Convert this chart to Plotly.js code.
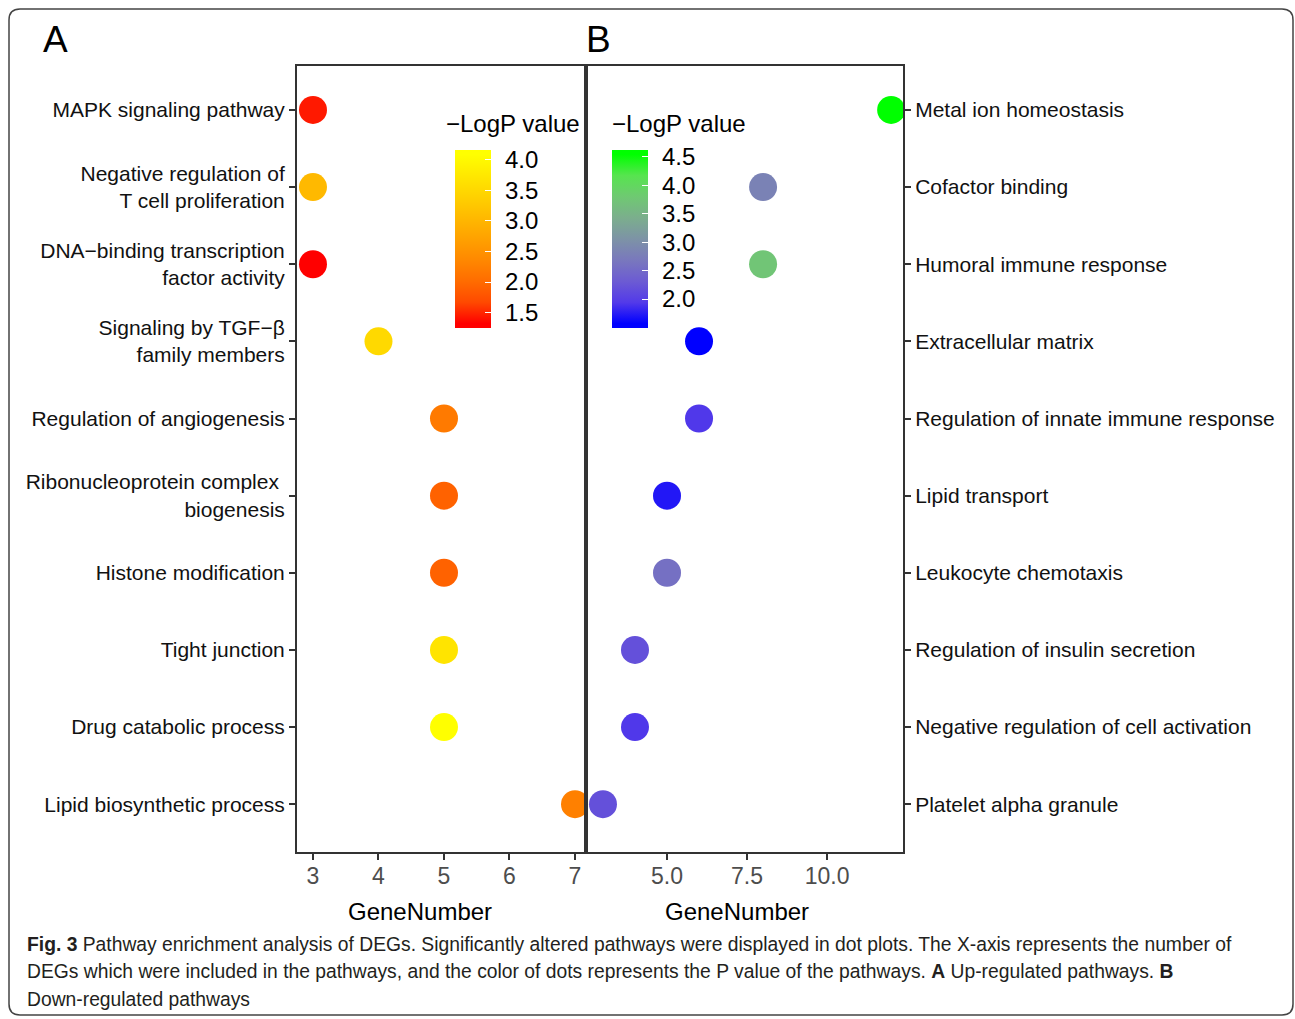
<!DOCTYPE html>
<html>
<head>
<meta charset="utf-8">
<script src="https://cdn.plot.ly/plotly-3.0.1.min.js"></script>
<style>html,body{margin:0;padding:0;background:#fff;}#chart{width:1295px;height:1019px;}</style>
</head>
<body>
<div id="chart"></div>
<script>
// ---- Data ----
const pathwaysA = [
  "MAPK signaling pathway",
  "Negative regulation of<br>T cell proliferation",
  "DNA\u2212binding transcription<br>factor activity",
  "Signaling by TGF\u2212\u03b2<br>family members",
  "Regulation of angiogenesis",
  "Ribonucleoprotein complex <br>biogenesis",
  "Histone modification",
  "Tight junction",
  "Drug catabolic process",
  "Lipid biosynthetic process"
];
const geneNumberA = [3, 3, 3, 4, 5, 5, 5, 5, 5, 7];
const logPA = [1.44, 3.05, 1.32, 3.52, 2.19, 1.91, 1.91, 3.68, 4.09, 2.26];

const pathwaysB = [
  "Metal ion homeostasis",
  "Cofactor binding",
  "Humoral immune response",
  "Extracellular matrix",
  "Regulation of innate immune response",
  "Lipid transport",
  "Leukocyte chemotaxis",
  "Regulation of insulin secretion",
  "Negative regulation of cell activation",
  "Platelet alpha granule"
];
const geneNumberB = [12, 8, 8, 6, 6, 5, 5, 4, 4, 3];
const logPB = [4.54, 2.82, 3.74, 1.57, 1.93, 1.72, 2.58, 2.19, 1.93, 2.19];

const ticksA = [3, 4, 5, 6, 7];
const ticksB = [5.0, 7.5, 10.0];
const colorbarTitle = "\u2212LogP value";
const axisTitle = "GeneNumber";
const captionLines = [
  "<b>Fig. 3</b> Pathway enrichment analysis of DEGs. Significantly altered pathways were displayed in dot plots. The X-axis represents the number of",
  "DEGs which were included in the pathways, and the color of dots represents the P value of the pathways. <b>A</b> Up-regulated pathways. <b>B</b>",
  "Down-regulated pathways"
];

// ---- Layout helpers ----
const W = 1295, H = 1019;
const px = v => v / W;
const py = v => 1 - v / H;

const scaleA = [[0,'#FF0000'],[0.125,'#FF4900'],[0.25,'#FF6C00'],[0.375,'#FF8800'],[0.5,'#FFA100'],[0.625,'#FFB900'],[0.75,'#FFD100'],[0.875,'#FFE800'],[1,'#FFFF00']];
const scaleB = [[0,'#0000FF'],[0.125,'#533AE9'],[0.25,'#6C5BD3'],[0.375,'#7978BD'],[0.5,'#7D93A6'],[0.625,'#7BAE8D'],[0.75,'#6FC972'],[0.875,'#57E44F'],[1,'#00FF00']];

// ggplot-style colorbar: bar extends half a bin (of 20) beyond the data limits, ends flat
function padScale(scale) {
  const out = [[0, scale[0][1]]];
  scale.forEach(([t, c]) => out.push([0.025 + t * 0.95, c]));
  out.push([1, scale[scale.length - 1][1]]);
  return out;
}
function padRange(vals) {
  const lo = Math.min(...vals), hi = Math.max(...vals), e = (hi - lo) / 38;
  return [lo - e, hi + e];
}
// breaks every 0.5 inside the data limits only (as ggplot does)
function breaks(vals) {
  const lo = Math.min(...vals), hi = Math.max(...vals), out = [];
  for (let v = Math.ceil(lo * 2) / 2; v <= hi + 1e-9; v += 0.5) out.push(v);
  return out;
}
const rangeA = padRange(logPA), rangeB = padRange(logPB);

const font = 'Liberation Sans, Arial, sans-serif';

function cbar(xLeft, vals) {
  const tv = breaks(vals);
  return {
    x: px(xLeft), xanchor: 'left', xref: 'paper',
    y: py(239), yanchor: 'middle', yref: 'paper',
    len: 178, lenmode: 'pixels', thickness: 36, thicknessmode: 'pixels',
    xpad: 0, ypad: 0, outlinewidth: 0,
    ticks: 'inside', tickcolor: '#ffffff', ticklen: 6, tickwidth: 1,
    tickmode: 'array', tickvals: tv, ticktext: tv.map(v => '\u00a0\u200a' + v.toFixed(1)),
    tickfont: {family: font, size: 24, color: '#000'},
    title: {text: ''}
  };
}

const traceA = {
  type: 'scatter', mode: 'markers',
  x: geneNumberA, y: pathwaysA, xaxis: 'x', yaxis: 'y',
  marker: {size: 28, color: logPA, cmin: rangeA[0], cmax: rangeA[1], colorscale: padScale(scaleA), showscale: true, colorbar: cbar(455, logPA), line: {width: 0}},
  hoverinfo: 'x+y'
};
const traceB = {
  type: 'scatter', mode: 'markers',
  x: geneNumberB, y: pathwaysB, xaxis: 'x2', yaxis: 'y2',
  marker: {size: 28, color: logPB, cmin: rangeB[0], cmax: rangeB[1], colorscale: padScale(scaleB), showscale: true, colorbar: cbar(612, logPB), line: {width: 0}},
  hoverinfo: 'x+y'
};

const axLine = {showline: true, mirror: true, linecolor: '#333333', linewidth: 2, showgrid: false, zeroline: false,
  ticks: 'outside', ticklen: 6, tickwidth: 2, tickcolor: '#333333'};

const titleFont = {family: font, size: 24, color: '#000'};

const layout = {
  width: W, height: H,
  margin: {l: 0, r: 0, t: 0, b: 0},
  paper_bgcolor: '#ffffff', plot_bgcolor: '#ffffff',
  showlegend: false,
  font: {family: font, color: '#000'},
  xaxis: Object.assign({}, axLine, {
    domain: [px(297), px(586)], range: [2.756, 7.168], anchor: 'y',
    tickmode: 'array', tickvals: ticksA, ticktext: ticksA.map(String), ticklabelstandoff: -4,
    tickfont: {family: font, size: 23, color: '#4D4D4D'}
  }),
  yaxis: Object.assign({}, axLine, {
    domain: [py(852), py(66)], anchor: 'x', type: 'category',
    categoryorder: 'array', categoryarray: pathwaysA.slice().reverse(),
    range: [-0.62, 9.57], side: 'left',
    tickfont: {family: font, size: 21, color: '#111'}
  }),
  xaxis2: Object.assign({}, axLine, {
    domain: [px(586), px(903)], range: [2.47, 12.37], anchor: 'y2',
    tickmode: 'array', tickvals: ticksB, ticktext: ticksB.map(v => v.toFixed(1)), ticklabelstandoff: -4,
    tickfont: {family: font, size: 23, color: '#4D4D4D'}
  }),
  yaxis2: Object.assign({}, axLine, {
    domain: [py(852), py(66)], anchor: 'x2', type: 'category',
    categoryorder: 'array', categoryarray: pathwaysB.slice().reverse(),
    range: [-0.62, 9.57], side: 'right',
    tickfont: {family: font, size: 21, color: '#111'}
  }),
  annotations: [
    {text: 'A', x: px(55), y: py(39), xref: 'paper', yref: 'paper', xanchor: 'center', yanchor: 'middle', showarrow: false, font: {family: font, size: 37, color: '#000'}},
    {text: 'B', x: px(598), y: py(39), xref: 'paper', yref: 'paper', xanchor: 'center', yanchor: 'middle', showarrow: false, font: {family: font, size: 37, color: '#000'}},
    {text: colorbarTitle, x: px(444), y: py(123), xref: 'paper', yref: 'paper', xanchor: 'left', yanchor: 'middle', showarrow: false, font: titleFont},
    {text: colorbarTitle, x: px(610), y: py(123), xref: 'paper', yref: 'paper', xanchor: 'left', yanchor: 'middle', showarrow: false, font: titleFont},
    {text: axisTitle, x: px(420), y: py(911), xref: 'paper', yref: 'paper', xanchor: 'center', yanchor: 'middle', showarrow: false, font: titleFont},
    {text: axisTitle, x: px(737), y: py(911), xref: 'paper', yref: 'paper', xanchor: 'center', yanchor: 'middle', showarrow: false, font: titleFont}
  ].concat(captionLines.map((t, i) => ({
    text: t, x: px(25), y: py(944 + i * 27.5), xref: 'paper', yref: 'paper', xanchor: 'left', yanchor: 'middle',
    showarrow: false, font: {family: 'Liberation Sans Narrow, Liberation Sans, Arial, sans-serif', size: 19.3, color: '#231F20'}
  }))),
  shapes: [
    {type: 'path', xref: 'paper', yref: 'paper',
     path: `M ${px(9)},${py(20)} Q ${px(9)},${py(9)} ${px(20)},${py(9)} L ${px(1282)},${py(9)} Q ${px(1293)},${py(9)} ${px(1293)},${py(20)} L ${px(1293)},${py(1004)} Q ${px(1293)},${py(1015)} ${px(1282)},${py(1015)} L ${px(20)},${py(1015)} Q ${px(9)},${py(1015)} ${px(9)},${py(1004)} Z`,
     line: {color: '#444444', width: 1.5}, fillcolor: 'rgba(0,0,0,0)'}
  ]
};

Plotly.newPlot('chart', [traceA, traceB], layout, {displayModeBar: false, staticPlot: true});
</script>
</body>
</html>
